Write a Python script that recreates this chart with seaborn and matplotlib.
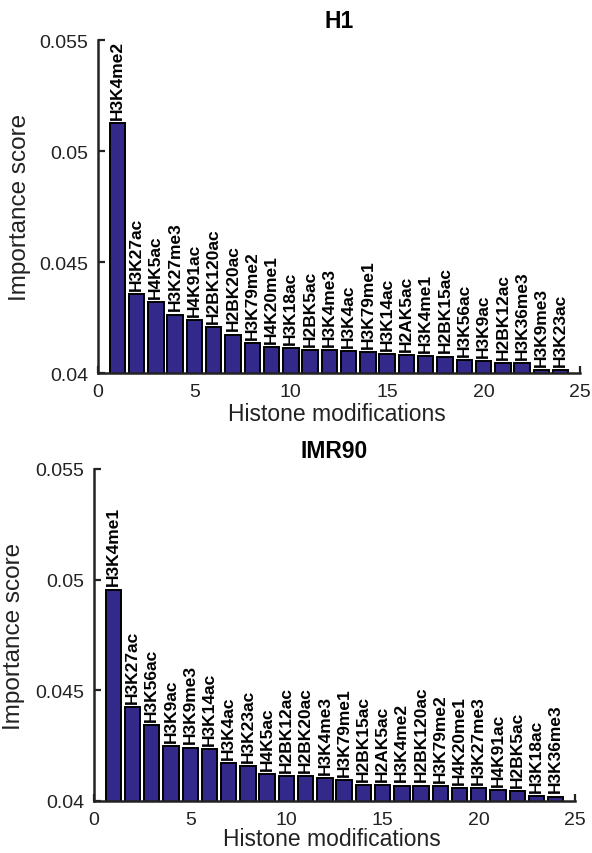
import matplotlib
matplotlib.use("Agg")
import matplotlib.pyplot as plt
import seaborn as sns
import pandas as pd

# ---- data ----
h1_marks = ["H3K4me2", "H3K27ac", "H4K5ac", "H3K27me3", "H4K91ac", "H2BK120ac",
            "H2BK20ac", "H3K79me2", "H4K20me1", "H3K18ac", "H2BK5ac", "H3K4me3",
            "H3K4ac", "H3K79me1", "H3K14ac", "H2AK5ac", "H3K4me1", "H2BK15ac",
            "H3K56ac", "H3K9ac", "H2BK12ac", "H3K36me3", "H3K9me3", "H3K23ac"]
h1_scores = [0.05125, 0.04356, 0.04321, 0.04263, 0.04240, 0.04206,
             0.04173, 0.04134, 0.04116, 0.04111, 0.04105, 0.04104,
             0.04099, 0.04093, 0.04084, 0.04080, 0.04075, 0.04074,
             0.04059, 0.04055, 0.04044, 0.04043, 0.04015, 0.04014]

imr90_marks = ["H3K4me1", "H3K27ac", "H3K56ac", "H3K9ac", "H3K9me3", "H3K14ac",
               "H3K4ac", "H3K23ac", "H4K5ac", "H2BK12ac", "H2BK20ac", "H3K4me3",
               "H3K79me1", "H2BK15ac", "H2AK5ac", "H3K4me2", "H2BK120ac", "H3K79me2",
               "H4K20me1", "H3K27me3", "H4K91ac", "H2BK5ac", "H3K18ac", "H3K36me3"]
imr90_scores = [0.04955, 0.04425, 0.04343, 0.04247, 0.04241, 0.04236,
                0.04170, 0.04157, 0.04122, 0.04114, 0.04111, 0.04102,
                0.04096, 0.04072, 0.04072, 0.04070, 0.04070, 0.04069,
                0.04060, 0.04060, 0.04050, 0.04044, 0.04021, 0.04020]

titles = ["H1", "IMR90"]
x_ticks = [0, 5, 10, 15, 20, 25]
y_ticks = [0.04, 0.045, 0.05, 0.055]
y_ticklabels = ["0.04", "0.045", "0.05", "0.055"]

# ---- style ----
sns.set_style("ticks")
plt.rcParams["font.family"] = ["Liberation Sans", "DejaVu Sans"]
bar_color = "#33298A"
axis_color = "#222222"

fig = plt.figure(figsize=(5.92, 8.54), dpi=100)
axes_rects = [
    [98 / 592, 1 - 374 / 854, 482 / 592, 333 / 854],
    [94 / 592, 1 - 802 / 854, 481 / 592, 332 / 854],
]
datasets = [(h1_marks, h1_scores), (imr90_marks, imr90_scores)]
ylabel_x = [-0.139, -0.143]
xlabel_y = [-0.087, -0.078]

for rect, (marks, scores), title, ylx, xly in zip(axes_rects, datasets, titles, ylabel_x, xlabel_y):
    ax = fig.add_axes(rect)
    df = pd.DataFrame({"pos": list(range(1, len(scores) + 1)), "score": scores, "mark": marks})
    sns.barplot(data=df, x="pos", y="score", native_scale=True, ax=ax,
                color=bar_color, saturation=1, width=0.8, errorbar=None,
                edgecolor="black", linewidth=1.4)
    for p, s, m in zip(df["pos"], df["score"], df["mark"]):
        ax.annotate(m, (p, s), xytext=(0, 3), textcoords="offset points",
                    rotation=90, ha="center", va="bottom",
                    fontsize=12.5, fontweight="bold", color="black")
    ax.set_xlim(0, 25)
    ax.set_ylim(0.04, 0.055)
    ax.set_xticks(x_ticks)
    ax.set_xticklabels([str(t) for t in x_ticks])
    ax.set_yticks(y_ticks)
    ax.set_yticklabels(y_ticklabels)
    ax.set_axisbelow(True)
    ax.tick_params(direction="in", length=5, width=1.6, colors=axis_color,
                   labelsize=14, pad=7, labelcolor=axis_color)
    for side in ["top", "right"]:
        ax.spines[side].set_visible(False)
    for side in ["left", "bottom"]:
        ax.spines[side].set_linewidth(1.8)
        ax.spines[side].set_color(axis_color)
    ax.set_title(title, fontsize=16.5, fontweight="bold", pad=9, color="black")
    ax.set_xlabel("Histone modifications", fontsize=16.5, color=axis_color)
    ax.set_ylabel("Importance score", fontsize=17.5, color=axis_color)
    ax.xaxis.set_label_coords(0.495, xly)
    ax.yaxis.set_label_coords(ylx, 0.5)

fig.savefig("out.png", dpi=100)
